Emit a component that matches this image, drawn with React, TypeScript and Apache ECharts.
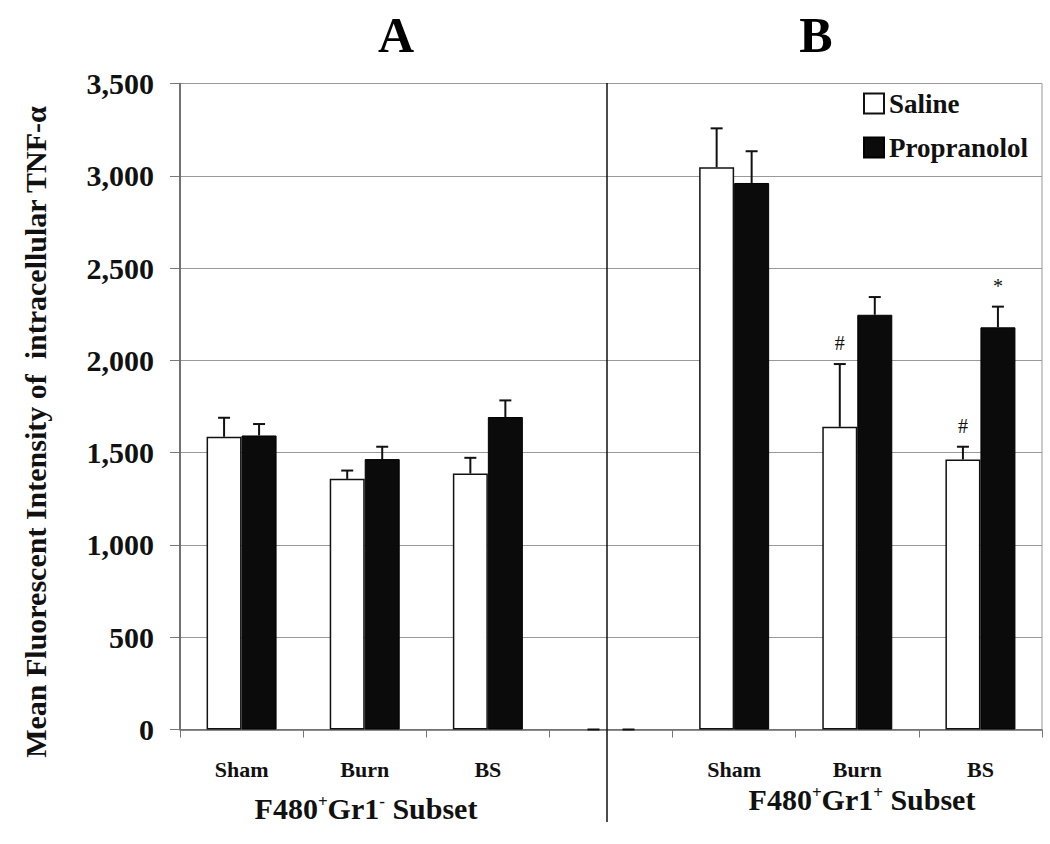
import React, { useEffect, useRef } from "react";
import * as echarts from "echarts";

const categories = ["Sham", "Burn", "BS", "", "Sham", "Burn", "BS"];
const salineValues = [1586, 1358, 1387, 0, 3046, 1640, 1463];
const salineErrors = [103, 45, 85, 0, 211, 340, 69];
const propValues = [1593, 1465, 1693, 0, 2961, 2247, 2179];
const propErrors = [62, 67, 90, 0, 172, 96, 112];
const salineMarks = ["", "", "", "", "", "#", "#"];
const propMarks = ["", "", "", "", "", "", "*"];
const yTicks = [0, 500, 1000, 1500, 2000, 2500, 3000, 3500];

const FONT = '"Liberation Serif", "Times New Roman", serif';
const BAR_W = 35;

function errorSeries(name: string, values: number[], errors: number[], marks: string[], offset: number) {
  return {
    type: "custom",
    name: name + " error",
    z: 5,
    data: values.map((v, i) => [i, v, errors[i]]),
    renderItem: (params: any, api: any) => {
      const ci = api.value(0);
      const v = api.value(1);
      const e = api.value(2);
      const base = api.coord([ci, v]);
      const top = api.coord([ci, v + e]);
      const x = base[0] + offset;
      const children: any[] = [
        { type: "line", shape: { x1: x, y1: base[1], x2: x, y2: top[1] }, style: { stroke: "#111", lineWidth: 2 } },
        { type: "line", shape: { x1: x - 6, y1: top[1], x2: x + 6, y2: top[1] }, style: { stroke: "#111", lineWidth: 2 } },
      ];
      const m = marks[params.dataIndex];
      if (m) {
        children.push({
          type: "text",
          x: x,
          y: top[1] - 11,
          style: { text: m, font: `normal 20px ${FONT}`, fill: "#111", align: "center", verticalAlign: "bottom", textAlign: "center", textVerticalAlign: "bottom" },
        });
      }
      return { type: "group", children };
    },
  };
}

export default function App() {
  const ref = useRef<HTMLDivElement>(null);
  useEffect(() => {
    if (!ref.current) return;
    const chart = echarts.init(ref.current, undefined, { renderer: "svg" });
    const subRich = {
      a: { font: `bold 30px ${FONT}`, fill: "#111", color: "#111" },
      s: { font: `bold 17px ${FONT}`, fill: "#111", color: "#111", verticalAlign: "top", padding: [0, 0, 12, 0] },
    };
    chart.setOption({
      animation: false,
      backgroundColor: "#fff",
      grid: { left: 180, right: 8, top: 83.5, bottom: 114.5, show: true, borderColor: "#999", borderWidth: 1 },
      legend: {
        orient: "vertical",
        left: 858,
        top: 85,
        itemWidth: 20,
        itemHeight: 20,
        itemGap: 17,
        icon: "rect",
        data: ["Saline", "Propranolol"],
        textStyle: { fontFamily: FONT, fontWeight: "bold", fontSize: 27, color: "#111" },
      },
      xAxis: {
        type: "category",
        data: categories,
        axisLine: { lineStyle: { color: "#666", width: 1.5 } },
        axisTick: { show: true, length: 8, lineStyle: { color: "#777" } },
        axisLabel: { fontFamily: FONT, fontWeight: "bold", fontSize: 22, color: "#111", margin: 29, interval: 0 },
      },
      yAxis: {
        type: "value",
        min: yTicks[0],
        max: yTicks[yTicks.length - 1],
        interval: yTicks[1] - yTicks[0],
        axisLine: { show: true, lineStyle: { color: "#555", width: 1.5 } },
        axisTick: { show: true, length: 10, lineStyle: { color: "#777" } },
        splitLine: { lineStyle: { color: "#999", width: 1 } },
        axisLabel: {
          fontFamily: FONT,
          fontWeight: "bold",
          fontSize: 30,
          color: "#111",
          margin: 26,
          formatter: (v: number) => v.toLocaleString("en-US"),
        },
      },
      series: [
        {
          type: "bar",
          name: "Saline",
          barWidth: BAR_W,
          barGap: "0%",
          itemStyle: { color: "#ffffff", borderColor: "#111", borderWidth: 1.5 },
          data: salineValues.map((v) => (v === 0 ? { value: v, itemStyle: { borderWidth: 0 } } : v)),
        },
        {
          type: "bar",
          name: "Propranolol",
          barWidth: BAR_W,
          barGap: "0%",
          itemStyle: { color: "#0b0b0b", borderColor: "#000", borderWidth: 1 },
          data: propValues.map((v) => (v === 0 ? { value: v, itemStyle: { borderWidth: 0 } } : v)),
        },
        errorSeries("Saline", salineValues, salineErrors, salineMarks, -BAR_W / 2),
        errorSeries("Propranolol", propValues, propErrors, propMarks, BAR_W / 2),
      ],
      graphic: [
        { type: "line", shape: { x1: 607, y1: 83, x2: 607, y2: 822 }, style: { stroke: "#111", lineWidth: 1.5 }, z: 10 },
        {
          type: "text",
          x: 396,
          y: 35,
          style: { text: "A", font: `bold 50px ${FONT}`, fill: "#000", align: "center", verticalAlign: "middle", textAlign: "center", textVerticalAlign: "middle" },
        },
        {
          type: "text",
          x: 816,
          y: 35,
          style: { text: "B", font: `bold 50px ${FONT}`, fill: "#000", align: "center", verticalAlign: "middle", textAlign: "center", textVerticalAlign: "middle" },
        },
        {
          type: "text",
          x: 35,
          y: 432,
          rotation: Math.PI / 2,
          style: {
            text: "Mean Fluorescent Intensity of  intracellular TNF-α",
            font: `bold 30px ${FONT}`,
            fill: "#111",
            align: "center",
            verticalAlign: "middle",
            textAlign: "center",
            textVerticalAlign: "middle",
          },
        },
        {
          type: "text",
          x: 366,
          y: 808,
          style: {
            text: "{a|F480}{s|+}{a|Gr1}{s|-}{a| Subset}",
            rich: subRich,
            align: "center",
            verticalAlign: "middle",
            textAlign: "center",
            textVerticalAlign: "middle",
          },
        },
        {
          type: "text",
          x: 862,
          y: 799,
          style: {
            text: "{a|F480}{s|+}{a|Gr1}{s|+}{a| Subset}",
            rich: subRich,
            align: "center",
            verticalAlign: "middle",
            textAlign: "center",
            textVerticalAlign: "middle",
          },
        },
      ],
    });
    return () => chart.dispose();
  }, []);
  return (
    <div style={{ position: "fixed", left: 0, top: 0, width: 1050, height: 844, background: "#fff" }}>
      <div ref={ref} style={{ width: 1050, height: 844 }} />
    </div>
  );
}
